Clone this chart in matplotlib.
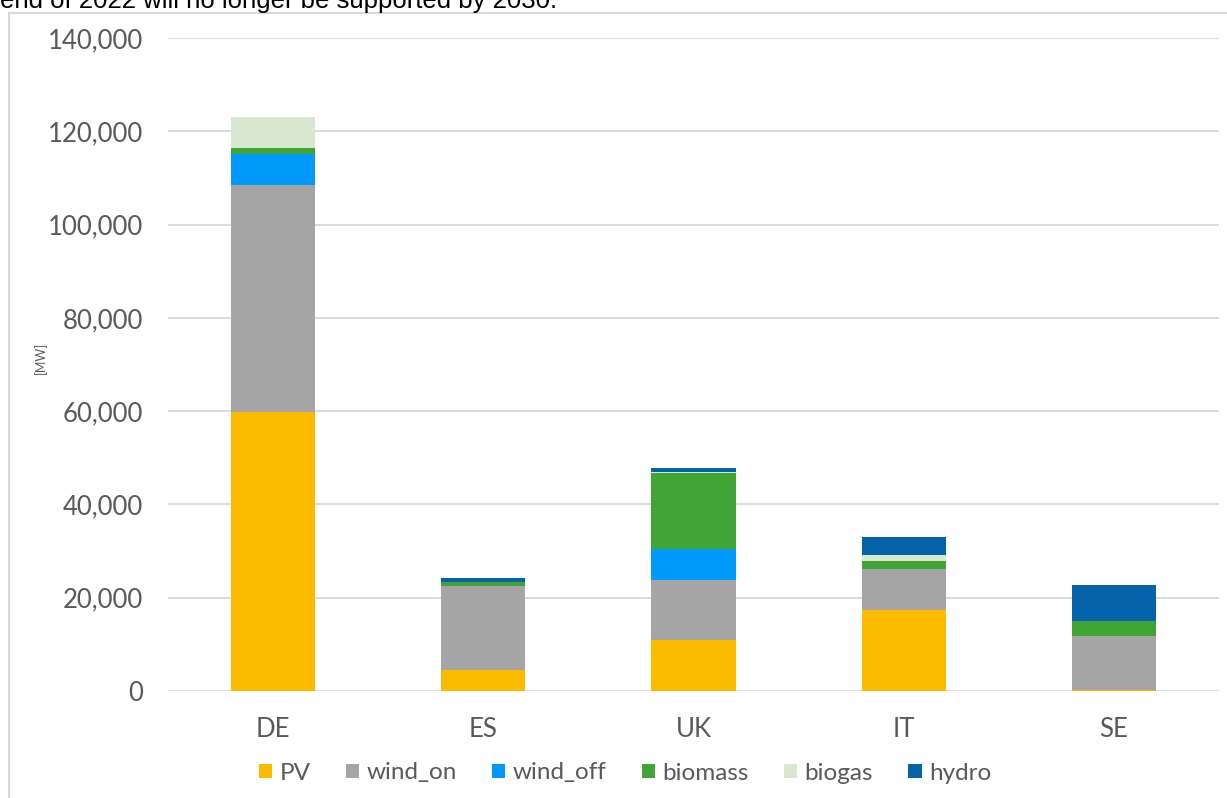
import matplotlib
matplotlib.use("Agg")
import matplotlib.pyplot as plt
from matplotlib.patches import Rectangle
from matplotlib.ticker import FuncFormatter, MultipleLocator
import numpy as np

countries = ["DE", "ES", "UK", "IT", "SE"]
pv       = [59800,  4450, 11000, 17350,   300]
wind_on  = [48600, 18100, 12800,  8800, 11500]
wind_off = [ 6700,     0,  6600,     0,     0]
biomass  = [ 1350,   850, 16300,  1800,  3300]
biogas   = [ 6650,     0,   200,  1200,     0]
hydro    = [    0,   750,  1000,  3800,  7650]

series = [
    ("PV", pv, "#FBBB00"),
    ("wind_on", wind_on, "#A5A5A5"),
    ("wind_off", wind_off, "#009AFF"),
    ("biomass", biomass, "#40A535"),
    ("biogas", biogas, "#DAE7D0"),
    ("hydro", hydro, "#0563AA"),
]

W, H = 1227, 798
fig = plt.figure(figsize=(W / 100, H / 100), dpi=100)

txt_color = "#595959"
font = "Lato"

# caption text above the chart frame
fig.text(0, 1 - 8 / H, "end of 2022 will no longer be supported by 2030.",
         family="Liberation Sans", fontsize=18.5, color="black",
         ha="left", va="baseline")

# chart frame
fig.patches.append(Rectangle((8.5 / W, -0.05), 1.1, 1 - 12.5 / H + 0.05,
                             transform=fig.transFigure, fill=False,
                             edgecolor="#D9D9D9", linewidth=1.5))

ax = fig.add_axes([168 / W, 1 - 691 / H, (1219 - 168) / W, (691 - 38) / H])
x = np.arange(len(countries))
bottom = np.zeros(len(countries))
handles = []
for name, vals, col in series:
    v = np.array(vals, dtype=float)
    ax.bar(x, v, width=0.4, bottom=bottom, color=col, linewidth=0, zorder=3)
    bottom += v
    handles.append(Rectangle((0, 0), 1, 1, facecolor=col, edgecolor="none", label=name))

ax.set_xlim(-0.5, len(countries) - 0.5)
ax.set_ylim(0, 140000)
ax.yaxis.set_major_locator(MultipleLocator(20000))
ax.yaxis.set_major_formatter(FuncFormatter(lambda v, p: f"{int(v):,}"))
ax.grid(axis="y", color="#D9D9D9", linewidth=1.3, zorder=0)
ax.set_axisbelow(True)
for s in ax.spines.values():
    s.set_visible(False)
ax.set_xticks(x)
ax.set_xticklabels(countries)
ax.tick_params(axis="both", length=0, labelsize=18.5, labelcolor=txt_color)
ax.tick_params(axis="y", pad=18)
ax.tick_params(axis="x", pad=19)
for lab in ax.get_xticklabels() + ax.get_yticklabels():
    lab.set_family(font)

fig.text(40 / W, 1 - 358 / H, "[MW]", rotation=90, family=font, fontsize=9,
         color=txt_color, ha="center", va="center")

leg = fig.legend(handles=handles, loc="center", bbox_to_anchor=(625 / W, 1 - 773 / H),
                 ncol=6, frameon=False, handlelength=0.55, handleheight=0.55,
                 handletextpad=0.3, columnspacing=1.45,
                 prop={"family": font, "size": 17.5})
for t in leg.get_texts():
    t.set_color(txt_color)

fig.savefig("out.png", dpi=100)
